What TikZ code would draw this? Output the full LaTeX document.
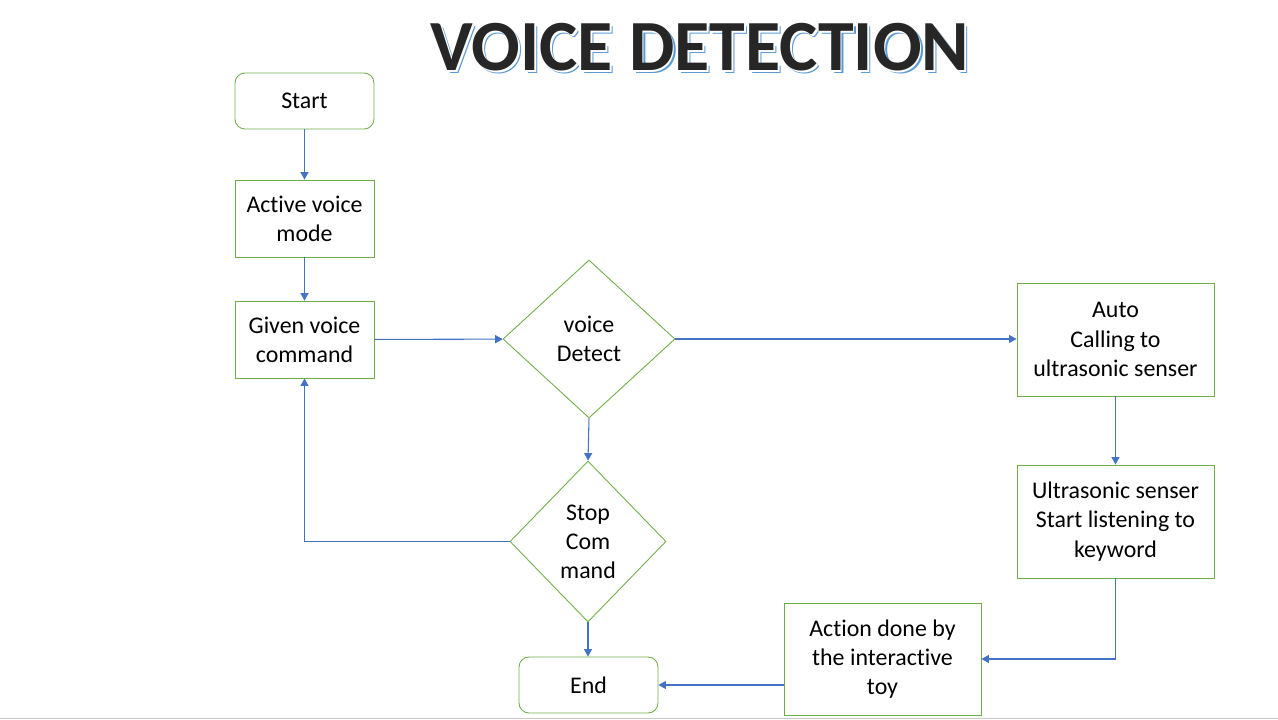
\documentclass[tikz,border=0pt]{standalone}
\usepackage{fontspec}
\setmainfont{Carlito}[Ligatures=NoCommon]
\usetikzlibrary{shapes.geometric,arrows.meta}
\definecolor{boxgreen}{RGB}{112,173,71}
\definecolor{arrowblue}{RGB}{68,114,196}
\definecolor{titledark}{RGB}{38,38,38}
\definecolor{shadowblue}{RGB}{91,155,213}
\tikzset{
  txt/.style={font=\fontsize{13.6}{16.6}\selectfont, align=center, text=black},
  boxnode/.style={txt, draw=boxgreen, line width=0.5pt, rectangle, inner sep=0pt},
  termnode/.style={boxnode, rounded corners=0.2cm, minimum width=2.78cm, minimum height=1.12cm},
  decnode/.style={txt, draw=boxgreen, line width=0.5pt, diamond, inner sep=0pt},
  conn/.style={draw=arrowblue, line width=0.6pt, -{Triangle[length=0.15cm,width=0.16cm]}},
  titletxt/.style={font=\fontsize{41}{46}\selectfont\bfseries, inner sep=0pt}
}
\begin{document}
\begin{tikzpicture}
\useasboundingbox (0,0) rectangle (25.56,-14.4);
% slide bottom edge
\draw[draw={rgb,255:red,200;green,200;blue,200}, line width=0.8pt] (0,-14.37) -- (25.56,-14.37);
% title
\node[titletxt, text=shadowblue] (titleshadow) at (14.06,-1.01) {VOICE DETECTION};
\node[titletxt, text=white] (titlewhite) at (14.03,-0.98) {VOICE DETECTION};
\node[titletxt, text=titledark] (title) at (14.0,-0.95) {VOICE DETECTION};
% nodes
\node[termnode] (start) at (6.09,-2.02) {Start};
\node[boxnode, minimum width=2.78cm, minimum height=1.54cm] (active) at (6.09,-4.37) {Active voice\\mode};
\node[boxnode, minimum width=2.78cm, minimum height=1.54cm] (given) at (6.09,-6.79) {Given voice\\command};
\node[decnode, minimum width=3.44cm, minimum height=3.16cm] (detect) at (11.78,-6.78) {voice\\Detect};
\node[decnode, minimum width=3.12cm, minimum height=3.22cm] (stop) at (11.76,-10.83) {Stop\\Com\\mand};
\node[termnode] (end) at (11.77,-13.70) {End};
\node[boxnode, minimum width=3.94cm, minimum height=2.26cm] (auto) at (22.31,-6.79) {Auto\\Calling to\\ultrasonic senser};
\node[boxnode, minimum width=3.94cm, minimum height=2.26cm] (ultra) at (22.31,-10.43) {Ultrasonic senser\\Start listening to\\keyword};
\node[boxnode, minimum width=3.94cm, minimum height=2.24cm] (action) at (17.65,-13.18) {Action done by\\the interactive\\toy};
% connectors
\draw[conn] (start) -- (active);
\draw[conn] (active) -- (given);
\draw[conn] (given) -- (detect);
\draw[conn] (detect.east) -- (auto.west |- detect.east);
\draw[conn] (detect.south) -- (stop.north);
\draw[conn] (stop.west) -| (given.south);
\draw[conn] (stop.south) -- (end.north -| stop.south);
\draw[conn] (auto) -- (ultra);
\draw[conn] (ultra.south) |- (action.east);
\draw[conn] (action.west |- end.east) -- (end.east);
\end{tikzpicture}
\end{document}
